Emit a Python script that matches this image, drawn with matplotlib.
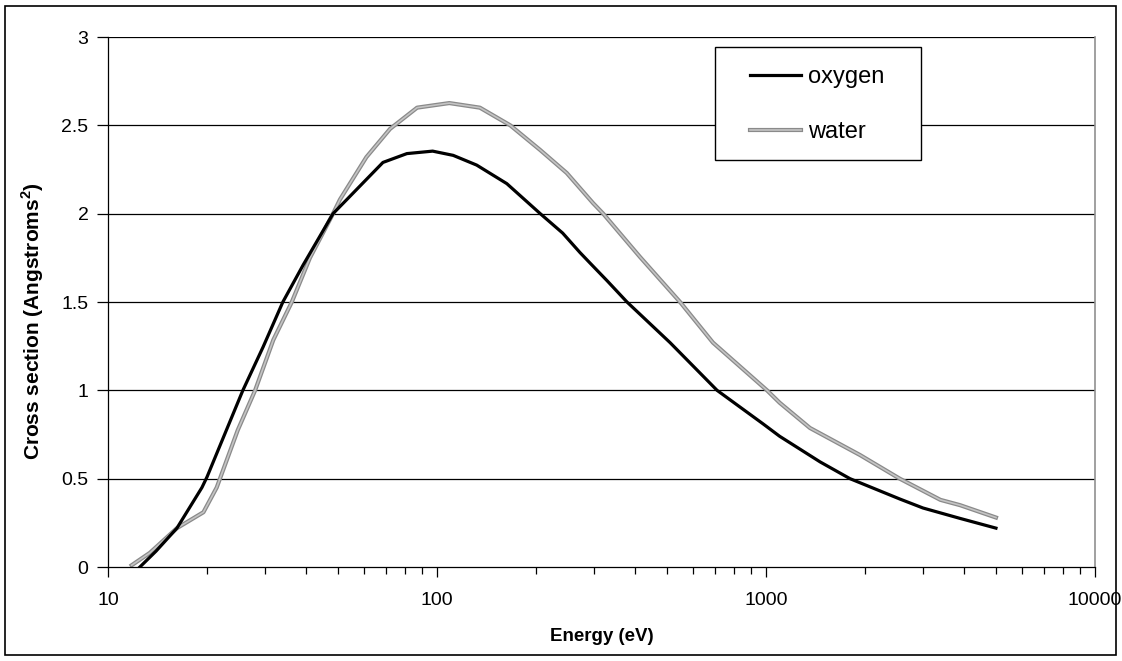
import matplotlib
matplotlib.use("Agg")
import matplotlib.pyplot as plt
import matplotlib.patheffects as pe
from matplotlib.ticker import LogLocator, FixedLocator, NullFormatter
from matplotlib.patches import Rectangle

plt.rcParams['font.family'] = ['Liberation Sans', 'DejaVu Sans']

oxygen_E = [12.5, 14, 16.2, 19.3, 20, 23.8, 25.7, 29.6, 34, 39.2, 48.3, 53.2, 68.5, 81, 97,
            112, 132, 163, 206, 241, 272, 292, 329, 378, 511, 710, 980, 1100, 1460, 1800,
            2550, 3000, 3890, 5000]
oxygen_y = [0, 0.09, 0.22, 0.45, 0.51, 0.85, 1.0, 1.245, 1.5, 1.71, 2.0, 2.08, 2.29, 2.34, 2.354,
            2.33, 2.275, 2.17, 2.0, 1.89, 1.78, 1.72, 1.62, 1.5, 1.27, 1.0, 0.81, 0.74, 0.595, 0.5,
            0.385, 0.334, 0.275, 0.22]

water_E = [11.8, 13.4, 16.2, 19.5, 21.4, 24.8, 28, 31.8, 36.2, 41.1, 48.3, 50.7, 61, 72, 87,
           109, 135, 167, 206, 248, 298, 320, 414, 548, 690, 1007, 1100, 1360, 1930, 2550,
           3390, 3890, 5000]
water_y = [0.01, 0.08, 0.22, 0.31, 0.45, 0.775, 1.0, 1.285, 1.5, 1.75, 2.0, 2.08, 2.32, 2.48, 2.60,
           2.626, 2.60, 2.50, 2.36, 2.23, 2.06, 2.0, 1.755, 1.5, 1.27, 1.0, 0.93, 0.787, 0.634, 0.5,
           0.38, 0.35, 0.28]

y_ticks = [0, 0.5, 1, 1.5, 2, 2.5, 3]
y_tick_labels = ['0', '0.5', '1', '1.5', '2', '2.5', '3']
x_ticks = [10, 100, 1000, 10000]
x_tick_labels = ['10', '100', '1000', '10000']

W, H = 1122, 661
fig = plt.figure(figsize=(W / 100, H / 100), dpi=100)
ax = fig.add_axes([108 / W, 1 - 567 / H, (1095 - 108) / W, (567 - 37) / H])

ax.set_xscale('log')
ax.set_xlim(10, 10000)
ax.set_ylim(0, 3)

for v in y_ticks[1:]:
    ax.axhline(v, color='black', lw=0.9, zorder=1)

ax.plot(oxygen_E, oxygen_y, color='black', lw=2.3, label='oxygen', zorder=3,
        solid_joinstyle='round')
ax.plot(water_E, water_y, color='#c4c4c4', lw=1.2, label='water', zorder=2,
        path_effects=[pe.Stroke(linewidth=3.0, foreground='#8a8a8a'), pe.Normal()])

ax.set_yticks(y_ticks)
ax.set_yticklabels(y_tick_labels)
ax.xaxis.set_major_locator(FixedLocator(x_ticks))
ax.set_xticklabels(x_tick_labels)
ax.xaxis.set_minor_locator(LogLocator(base=10, subs=range(2, 10)))
ax.xaxis.set_minor_formatter(NullFormatter())

ax.tick_params(axis='y', direction='out', length=8, width=0.9, pad=6, labelsize=14, colors='black')
ax.tick_params(axis='x', which='major', direction='out', length=7, width=0.9, pad=11, labelsize=14)
ax.tick_params(axis='x', which='minor', direction='out', length=5, width=0.9)

ax.spines['top'].set_visible(False)
ax.spines['right'].set_color('#909090')
ax.spines['right'].set_linewidth(1.2)
ax.spines['left'].set_linewidth(0.9)
ax.spines['bottom'].set_linewidth(0.9)

ax.set_xlabel('Energy (eV)', fontsize=13.5, fontweight='bold', labelpad=14)
ax.set_ylabel('Cross section (Angstroms$^\\mathregular{2}$)', fontsize=15, fontweight='bold', labelpad=11)
ax.yaxis.label.set_y(0.465)

# legend box (white, black edge) drawn in pixel-based figure coords
fig.patches.append(Rectangle((715 / W, 1 - 160 / H), (921 - 715) / W, (160 - 47) / H,
                             transform=fig.transFigure, facecolor='white', edgecolor='black',
                             lw=1.0, zorder=10))
leg = fig.legend(*ax.get_legend_handles_labels(), loc='upper left',
                 bbox_to_anchor=(750 / W, 1 - 66 / H),
                 fontsize=17, frameon=False,
                 handlelength=2.15, handletextpad=0.3, labelspacing=1.4, borderpad=0,
                 borderaxespad=0)
leg.set_zorder(11)

fig.patches.append(Rectangle((5 / W, 6 / H), (1116 - 5) / W, (655 - 6) / H, transform=fig.transFigure,
                             fill=False, edgecolor='black', lw=1.2))

fig.savefig('out.png', dpi=100, facecolor='white')
